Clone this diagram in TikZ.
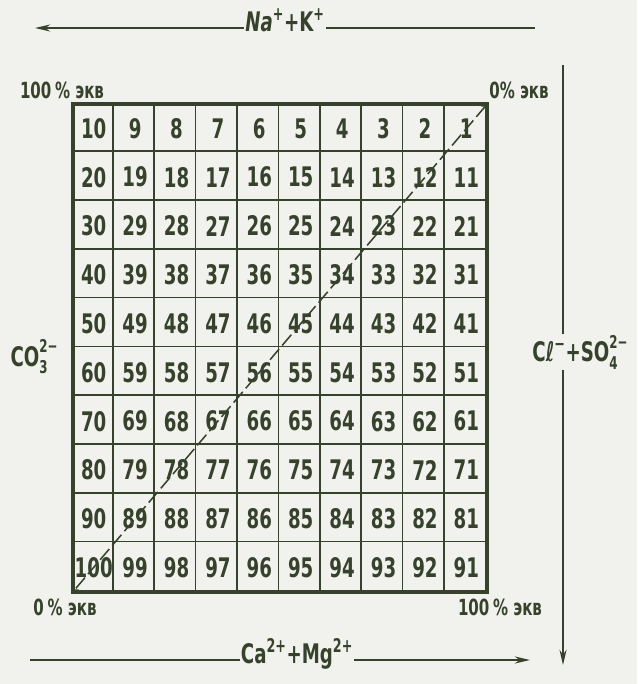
\documentclass[tikz,border=0pt]{standalone}
\usepackage{fontspec}
\setmainfont[FakeStretch=0.75]{DejaVu Sans Condensed}
\usepackage{xcolor}
\definecolor{ink}{HTML}{36422C}
\definecolor{paper}{HTML}{F1F1ED}
\usepackage{tikz}
\usetikzlibrary{arrows.meta, positioning, calc, fit}

\newcommand{\ionidx}[2]{\rlap{\raisebox{-0.28em}{\fontsize{15}{15}\selectfont #1}}\raisebox{0.5em}{\fontsize{15}{15}\selectfont #2}}

\begin{document}
\begin{tikzpicture}[
    x=0.03cm, y=-0.03cm,
    >={Stealth[length=13pt, width=6pt]},
    color=ink,
    cell/.style={minimum width=1.242cm, minimum height=1.464cm, inner sep=0pt, outer sep=0pt, font=\fontsize{23}{23}\selectfont\bfseries},
    frame/.style={draw=ink, line width=2.8pt, inner sep=0pt},
    gridline/.style={draw=ink, line width=1.3pt},
    ion/.style={inner sep=1pt, font=\fontsize{23}{23}\selectfont\bfseries},
    pct/.style={inner sep=0pt, font=\fontsize{19}{19}\selectfont\bfseries},
    axis/.style={draw=ink, line width=1.6pt},
    diag/.style={draw=ink, line width=1.3pt, dash pattern=on 12pt off 4pt, >={Stealth[length=7pt, width=5pt]}},
]
\fill[paper] (0,0) rectangle (637,684);
\useasboundingbox (0,0) rectangle (637,684);

\foreach \r in {0,...,9}
  \foreach \c in {0,...,9}{
    \pgfmathtruncatemacro{\n}{10*\r+10-\c}
    \node[cell] (c\n) at (93.7+41.4*\c, 128.4+48.8*\r) {\n};
  }
\node[frame, fit=(c10)(c91)] (tab) {};
\foreach \i in {1,...,9}{
  \draw[gridline] ($(tab.north west)+(41.4*\i,0)$) -- ($(tab.south west)+(41.4*\i,0)$);
  \draw[gridline] ($(tab.north west)+(0,48.8*\i)$) -- ($(tab.north east)+(0,48.8*\i)$);
}
\draw[diag, <->] (tab.north east) -- (tab.south west);

\node[pct] (tl) at (62, 90) {100\,\% экв};
\node[pct] (tr) at (519, 90) {0\% экв};
\node[pct] (bl) at (65, 607) {0\,\% экв};
\node[pct] (br) at (500, 607) {100\,\% экв};

\node[ion] (na) at (285, 20) {\textit{Na}\textsuperscript{+}+K\textsuperscript{+}};
\coordinate (naL) at (35, 28);
\coordinate (naR) at (535, 28);
\draw[axis, ->] (naL -| na.west) -- (naL);
\draw[axis] (naR -| na.east) -- (naR);

\node[ion] (ca) at (297, 654) {Ca\textsuperscript{2+}+Mg\textsuperscript{2+}};
\coordinate (caL) at (30, 660);
\coordinate (caR) at (530, 660);
\draw[axis] (caL) -- (caL -| ca.west);
\draw[axis, ->] (caR -| ca.east) -- (caR);

\node[ion] (cl) at (580, 352) {Cℓ\textsuperscript{−}+SO\ionidx{4}{2−}};
\coordinate (clT) at (563, 65);
\coordinate (clB) at (563, 665);
\draw[axis] (clT) -- (clT |- cl.north);
\draw[axis, ->] (clB |- cl.south) -- (clB);

\node[ion] (co) at (34, 357) {CO\ionidx{3}{2−}};
\end{tikzpicture}
\end{document}
